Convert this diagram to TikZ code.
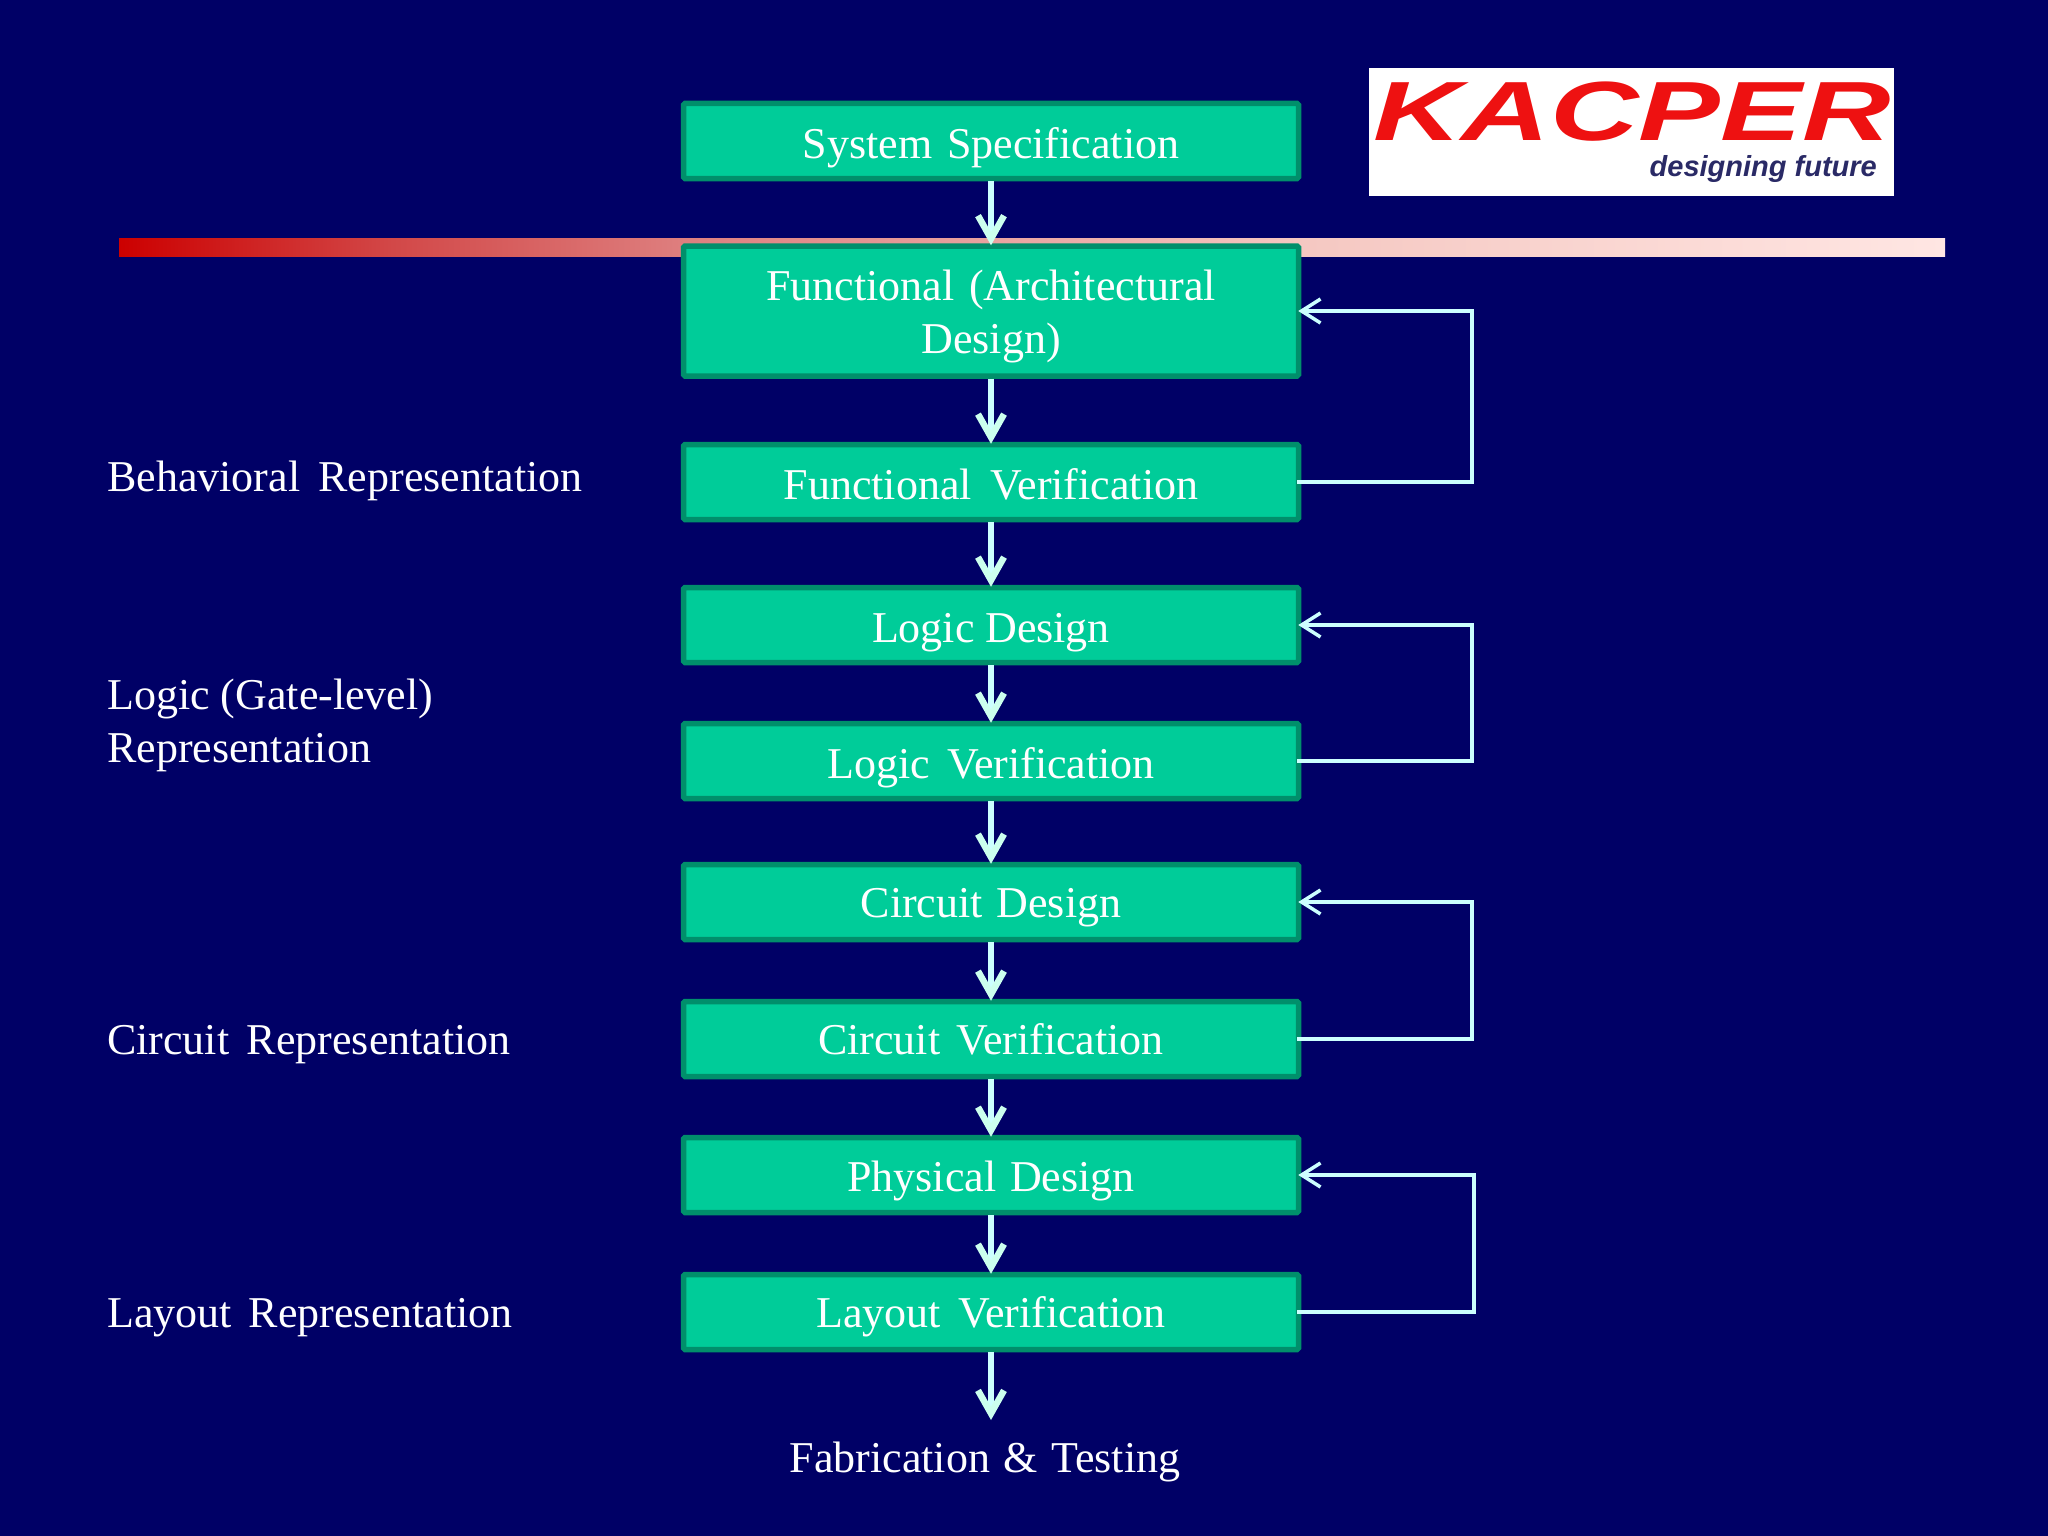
\documentclass[tikz,border=0pt]{standalone}
\usepackage{fontspec}
\setmainfont{Liberation Serif}
\newfontfamily\logofont{Liberation Sans}
\usetikzlibrary{arrows.meta,calc}
\definecolor{bgnavy}{HTML}{000066}
\definecolor{boxfill}{HTML}{00CC99}
\definecolor{boxedge}{HTML}{008F6B}
\definecolor{linecol}{HTML}{CCFFFF}
\definecolor{headcol}{HTML}{CCFFEE}
\definecolor{logored}{HTML}{EE1111}
\definecolor{logoink}{HTML}{2A2A66}
\definecolor{barstart}{HTML}{CC0000}
\definecolor{barb}{HTML}{D24848}
\definecolor{barc}{HTML}{DE7F7F}
\definecolor{bard}{HTML}{F5C8C2}
\definecolor{bare}{HTML}{FFE6E3}
\pgfdeclarehorizontalshading{barshade}{100bp}{
  color(0bp)=(barstart); color(25bp)=(barstart);
  color(32.5bp)=(barb); color(40.5bp)=(barc); color(57.5bp)=(bard); color(75bp)=(bare); color(100bp)=(bare)}
\tikzset{
  x=1pt,y=-1pt,
  stage/.style={draw=boxedge,fill=boxfill,line width=5.5pt,rounded corners=1.5pt,minimum width=615pt,text width=590pt,align=center,inner sep=0pt,text=white,text height=32pt,text depth=0pt,font=\fontsize{44}{53}\selectfont},
  lab/.style={anchor=west,align=left,text=white,inner sep=0pt,font=\fontsize{44}{53}\selectfont},
  flow/.style={draw=linecol,line width=6.5pt,shorten >=-2pt,-{Straight Barb[length=23pt,width=26pt,line width=6.5pt,color=headcol]}},
  back/.style={draw=linecol,line width=3.5pt,line join=miter,shorten >=-3pt,-{Straight Barb[length=19pt,width=24pt,line width=3.5pt]}}
}
\begin{document}
\begin{tikzpicture}
\useasboundingbox (0,0) rectangle (2048,1536);
\fill[bgnavy] (0,0) rectangle (2048,1536);
\shade[shading=barshade] (119,238) rectangle (1945,256);
\fill[white] (1369,68) rectangle (1894,196);
\node[text=logored,font=\logofont\bfseries\itshape\fontsize{84}{84}\selectfont,inner sep=0pt,xscale=1.458] (logoa) at (1632,112) {KACPER};
\node[text=logoink,font=\logofont\bfseries\itshape\fontsize{29}{29}\selectfont,inner sep=0pt,anchor=east] (logob) at (1877,169) {designing future};
\node[stage,minimum height=75pt,text height=36pt] (a) at (991,141) {System Specification};
\node[stage,minimum height=130pt,text depth=53pt] (b) at (991,311) {Functional (Architectural\\Design)};
\node[stage,minimum height=75pt,text height=34pt] (c) at (991,482) {Functional\hspace{4pt} Verification};
\node[stage,minimum height=75pt,text height=34pt] (d) at (991,625) {Logic\hspace{-4pt} Design};
\node[stage,minimum height=75pt,text height=34pt] (e) at (991,761) {Logic\hspace{2.5pt} Verification};
\node[stage,minimum height=75pt,text height=31pt] (f) at (991,902) {Circuit\hspace{-1pt} Design};
\node[stage,minimum height=75pt,text height=31pt] (g) at (991,1039) {Circuit\hspace{1pt} Verification};
\node[stage,minimum height=75pt] (h) at (991,1175) {Physical\hspace{-1pt} Design};
\node[stage,minimum height=75pt,text height=31pt] (i) at (991,1312) {Layout\hspace{2.5pt} Verification};
\node[text=white,inner sep=0pt,font=\fontsize{44}{53}\selectfont] (j) at (985,1462) {Fabrication\hspace{2.5pt} \&\hspace{2.5pt} Testing};
\node[lab] (l1) at (107,481) {Behavioral\, Representation};
\node[lab] (l2) at (107,725) {Logic (Gate-level)\\Representation};
\node[lab] (l3) at (107,1045) {Circuit\hspace{6.5pt} Representation};
\node[lab] (l4) at (107,1318) {Layout\hspace{6pt} Representation};
\foreach \p/\q in {a/b,b/c,c/d,d/e,e/f,f/g,g/h,h/i} \draw[flow] (\p.south) -- (\q.north);
\coordinate (jtop) at (991,1418);
\draw[flow] (i.south) -- (jtop);
\foreach \p/\q/\xx in {c/b/1472,e/d/1472,g/f/1472,i/h/1474}
  \draw[back] ([xshift=-4pt]\p.east) -- (\xx,0 |- \p.east) -- (\xx,0 |- \q.east) -- (\q.east);
\end{tikzpicture}
\end{document}
